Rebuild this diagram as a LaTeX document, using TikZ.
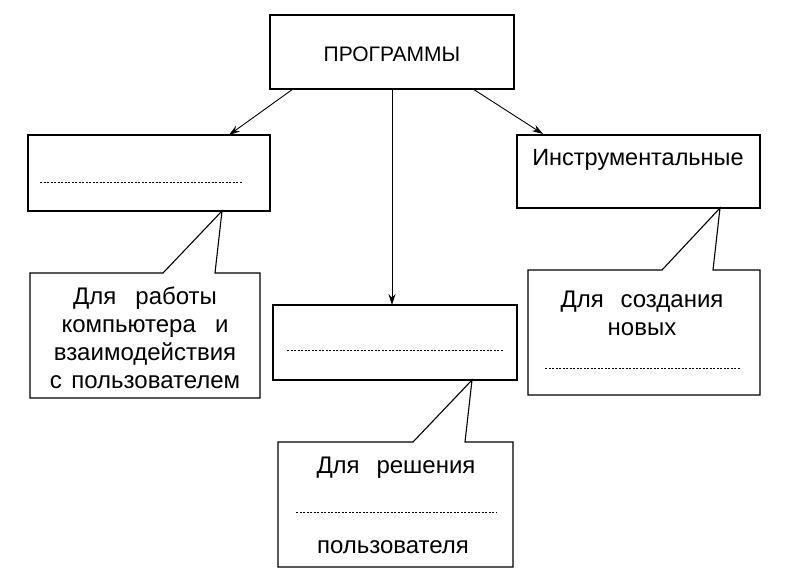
\documentclass[tikz,border=0pt]{standalone}
\usepackage{fontspec}
\setmainfont{Liberation Sans}
\usetikzlibrary{arrows.meta}
\begin{document}
\begin{tikzpicture}[x=1pt,y=-1pt,
  box/.style={draw,line width=1.1pt,fill=white},
  txt/.style={font=\fontsize{24}{28}\selectfont,align=center,inner sep=0pt},
  arr/.style={-{Stealth[length=11pt,width=7pt]},line width=0.9pt},
  dots/.style={dashed,dash pattern=on 2pt off 1.5pt,line width=0.7pt}]
\fill[white] (0,0) rectangle (792,581);
\useasboundingbox (0,0) rectangle (792,581);
% top
\draw[box] (270,15) rectangle (514,89);
\node[txt,font=\fontsize{21}{25}\selectfont] (top) at (392,54) {ПРОГРАММЫ};
\coordinate (t1) at (293,89); \coordinate (t2) at (392,89); \coordinate (t3) at (473,89);
% level boxes
\draw[box] (28,135) rectangle (270,211);
\coordinate (l) at (229,135);
\draw[dots] (40,182) -- (243,182);
\draw[box] (517,135) rectangle (760,208);
\coordinate (r) at (543,134);
\node[txt,font=\fontsize{23.5}{28}\selectfont] (rt) at (638,160) {Инструментальные};
\draw[box] (273,305) rectangle (517,380);
\coordinate (m) at (392,305);
\draw[dots] (287,350) -- (503,350);
% arrows
\draw[arr] (t1) -- (l);
\draw[arr] (t2) -- (m);
\draw[arr] (t3) -- (r);
% left callout
\draw[line width=1.1pt,fill=white] (30,273) -- (163,273) -- (222,211) -- (215,273) -- (260,273) -- (260,398) -- (30,398) -- cycle;
\node[txt] (lc) at (145,338) {Для\hspace{0.8em}работы\\компьютера\hspace{0.8em}и\\взаимодействия\\с\hspace{0.4em}пользователем};
% right callout
\draw[line width=1.1pt,fill=white] (528,270) -- (662,270) -- (720,208) -- (713,270) -- (760,270) -- (760,395) -- (528,395) -- cycle;
\node[txt] (rc) at (642,313) {Для\hspace{0.7em}создания\\новых};
\draw[dots] (545,368) -- (740,368);
% bottom callout
\draw[line width=1.1pt,fill=white] (278,442) -- (413,442) -- (472,380) -- (465,442) -- (513,442) -- (513,567) -- (278,567) -- cycle;
\node[txt] (bc1) at (396,468) {Для\hspace{0.7em}решения};
\draw[dots] (296,512) -- (496,512);
\node[txt] (bc2) at (393,547) {пользователя};
\end{tikzpicture}
\end{document}
